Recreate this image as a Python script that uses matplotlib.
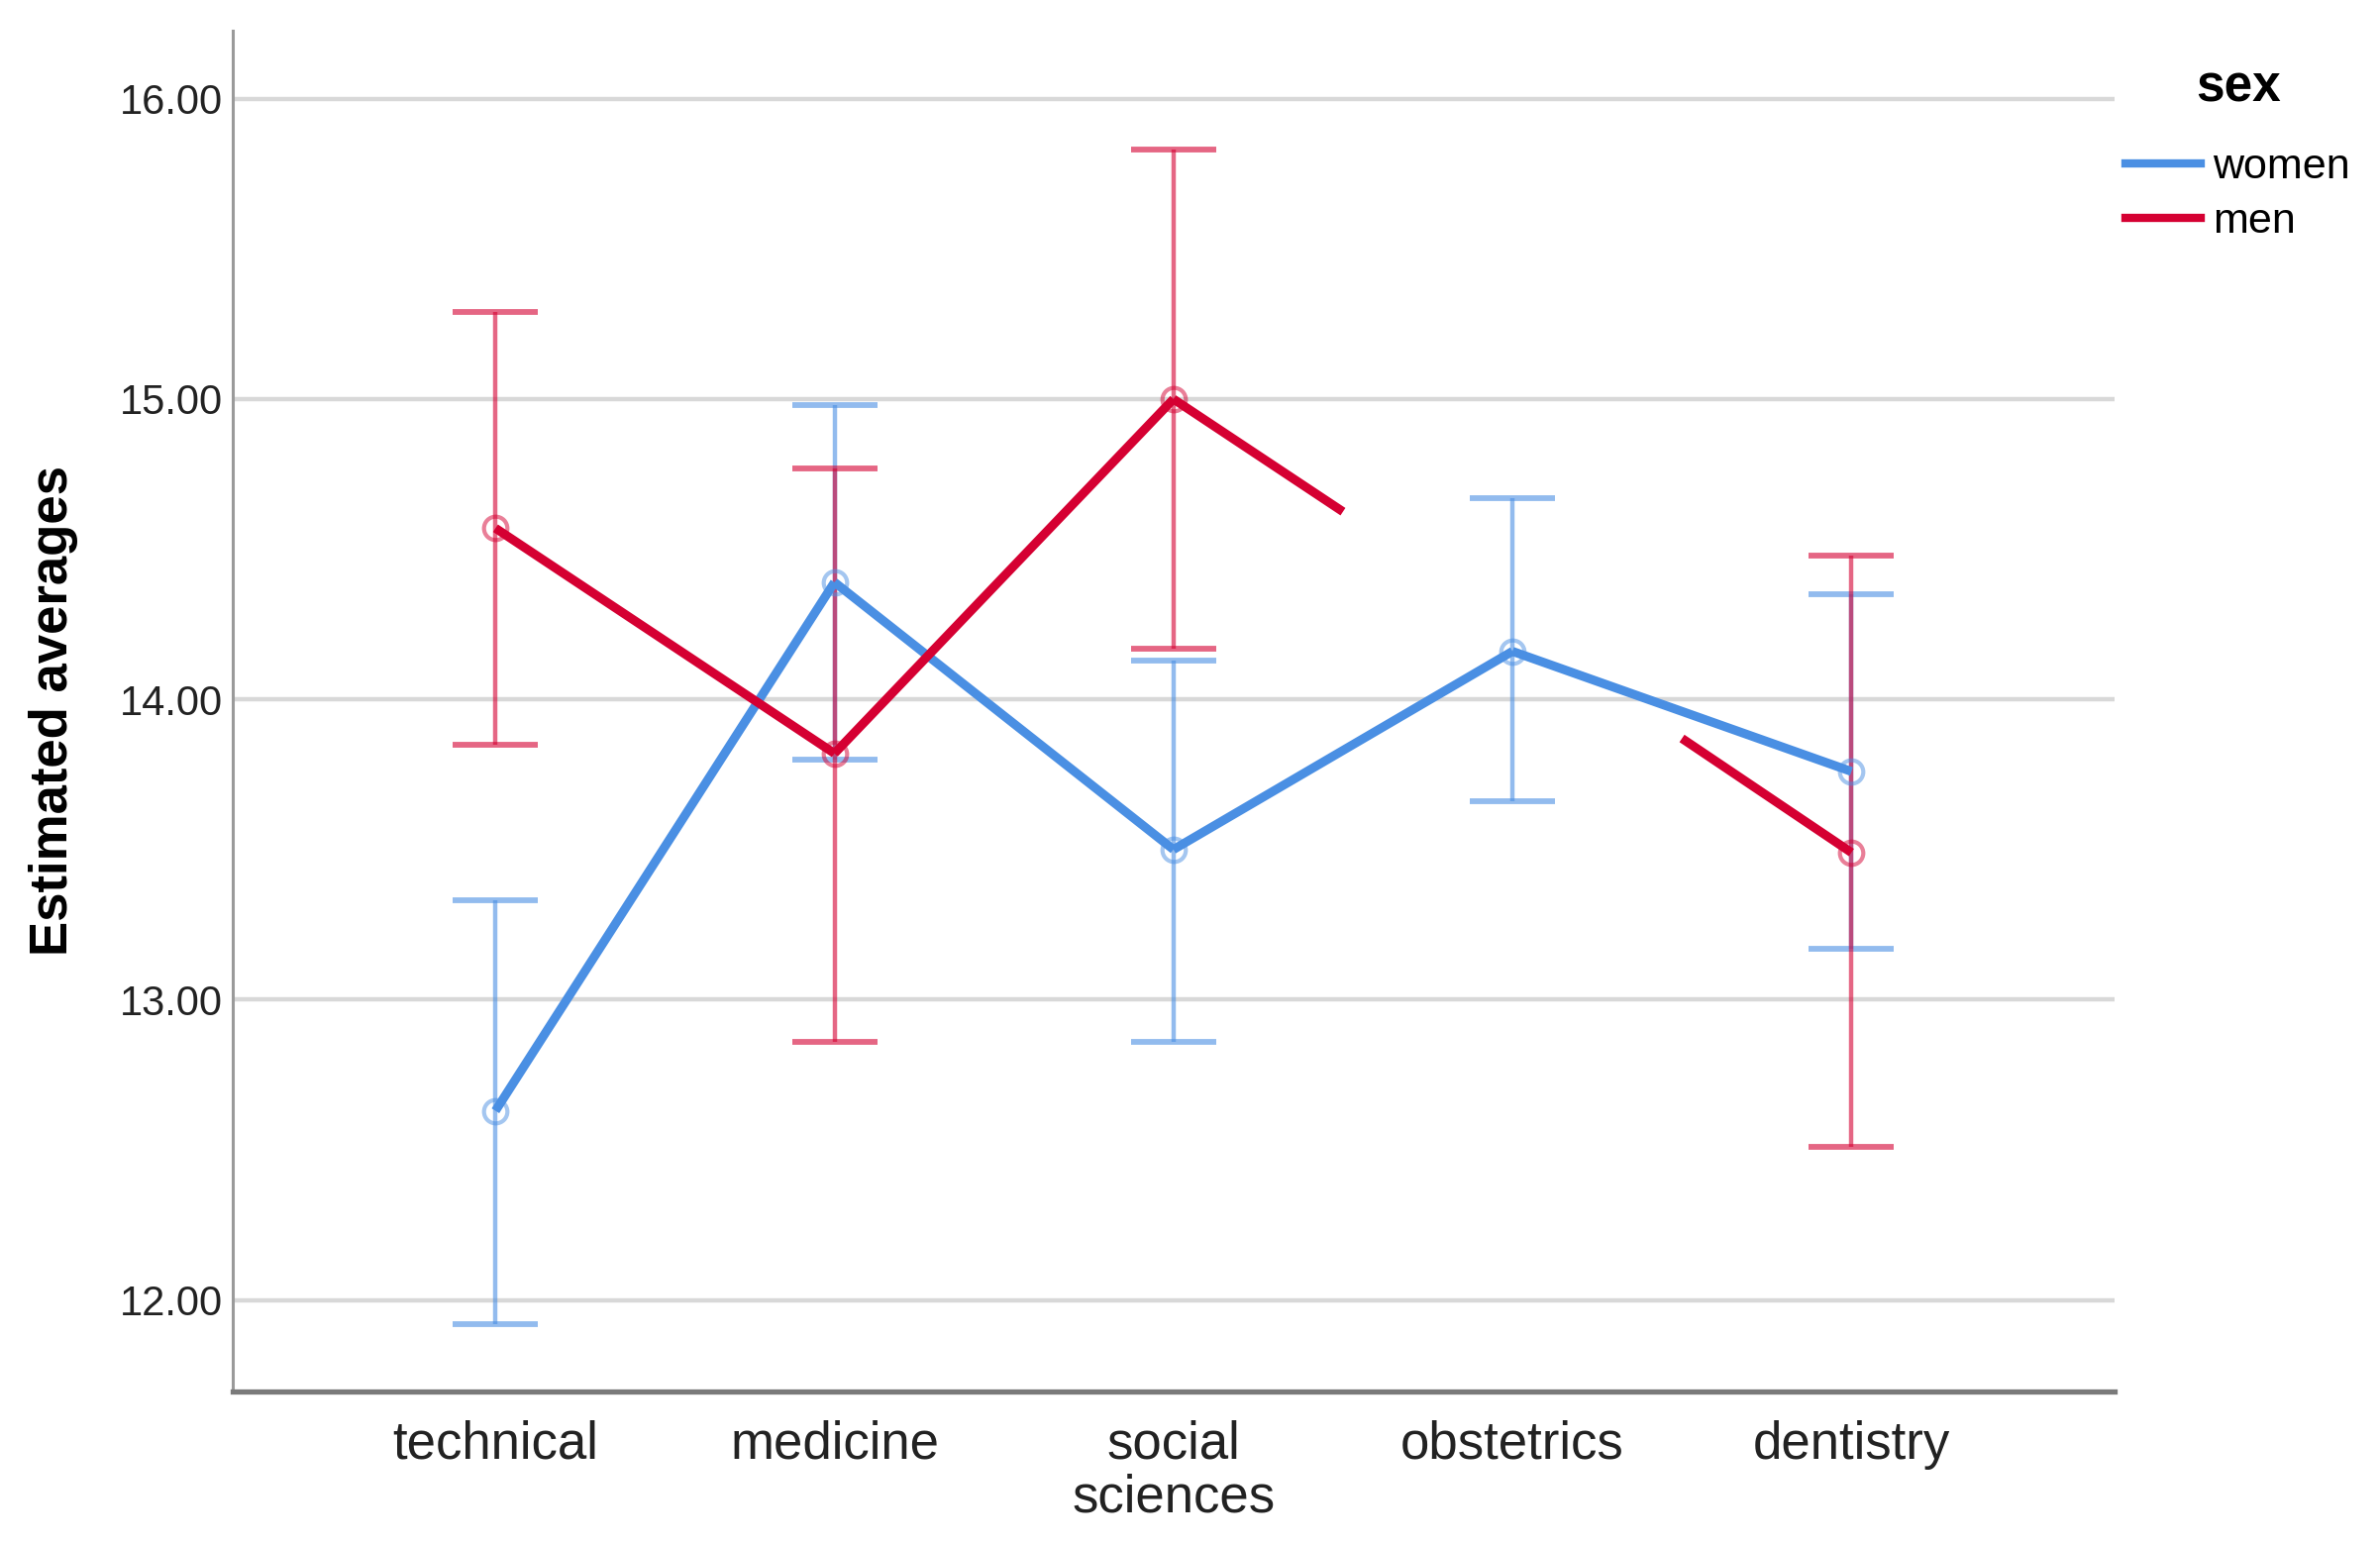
import numpy as np
import matplotlib.pyplot as plt
from matplotlib.lines import Line2D

# estimated marginal means with 95% CI
categories = ["technical", "medicine", "social\nsciences", "obstetrics", "dentistry"]
yticks = [12.0, 13.0, 14.0, 15.0, 16.0]

women_mean = [12.63, 14.39, 13.50, 14.16, 13.76]
women_lo   = [11.92, 13.80, 12.86, 13.66, 13.17]
women_hi   = [13.33, 14.98, 14.13, 14.67, 14.35]

# men / obstetrics is not estimable: no marker, no CI, line stops half-way
men_mean = [14.57, 13.82, 15.00, 14.25, 13.49]
men_lo   = [13.85, 12.86, 14.17, np.nan, 12.51]
men_hi   = [15.29, 14.77, 15.83, np.nan, 14.48]
men_ok   = [True, True, True, False, True]

BLUE = "#4A8FE3"
RED = "#D50032"

FONT = ["Liberation Sans", "DejaVu Sans"]


def draw_series(ax, x, mean, lo, hi, ok, color):
    x = np.asarray(x, dtype=float)
    mean = np.asarray(mean, dtype=float)
    ok = np.asarray(ok)

    # connecting line, half segments next to a missing cell
    for i in range(len(x) - 1):
        xa, xb = x[i], x[i + 1]
        ya, yb = mean[i], mean[i + 1]
        xm, ym = (xa + xb) / 2, (ya + yb) / 2
        if ok[i] and ok[i + 1]:
            ax.plot([xa, xb], [ya, yb], color=color, lw=6.5, solid_capstyle='butt', zorder=4)
        elif ok[i]:
            ax.plot([xa, xm], [ya, ym], color=color, lw=6.5, solid_capstyle='butt', zorder=4)
        elif ok[i + 1]:
            ax.plot([xm, xb], [ym, yb], color=color, lw=6.5, solid_capstyle='butt', zorder=4)

    # error bars (95% CI)
    lo = np.asarray(lo, dtype=float)
    hi = np.asarray(hi, dtype=float)
    ax.errorbar(x[ok], mean[ok], yerr=[mean[ok] - lo[ok], hi[ok] - mean[ok]],
                fmt='none', ecolor=color, elinewidth=3.2, capsize=31, capthick=4.2,
                alpha=0.6, zorder=3)

    # hollow markers
    ax.plot(x[ok], mean[ok], 'o', ms=17, mfc='none', mec=color, mew=3,
            alpha=0.5, zorder=5)


fig = plt.figure(figsize=(24.03, 15.6), dpi=100)
ax = fig.add_axes([0.0978, 0.0995, 0.7905, 0.8805])

x = np.arange(len(categories))
draw_series(ax, x, women_mean, women_lo, women_hi, [True] * 5, BLUE)
draw_series(ax, x, men_mean, men_lo, men_hi, men_ok, RED)

ax.set_xlim(-0.775, 4.775)
ax.set_ylim(11.696, 16.226)

ax.set_yticks(yticks)
ax.set_yticklabels([f"{v:.2f}" for v in yticks], family=FONT, fontsize=30, color='#222222')
ax.set_xticks(x)
ax.set_xticklabels(categories, family=FONT, fontsize=38, color='#222222', linespacing=1.1)
ax.tick_params(axis='both', length=0)
ax.tick_params(axis='y', pad=7)
ax.tick_params(axis='x', pad=21)

ax.yaxis.grid(True, color='#D8D8D8', lw=3.2)
ax.set_axisbelow(True)

for s in ['top', 'right']:
    ax.spines[s].set_visible(False)
ax.spines['left'].set_color('#9A9A9A')
ax.spines['left'].set_linewidth(2.2)
ax.spines['bottom'].set_color('#7A7A7A')
ax.spines['bottom'].set_linewidth(3.8)

ax.set_ylabel("Estimated averages", family=FONT, fontsize=38, fontweight='bold')
ax.yaxis.set_label_coords(-0.082, 0.5)

handles = [Line2D([], [], color=BLUE, lw=6), Line2D([], [], color=RED, lw=6)]
leg = fig.legend(handles, ["women", "men"], loc='upper left', bbox_to_anchor=(0.886, 0.970),
                 frameon=False, title="sex", handlelength=1.75, handletextpad=0.3,
                 labelspacing=0.35, borderaxespad=0,
                 prop={'family': FONT, 'size': 31})
leg.get_title().set_fontproperties({'family': FONT, 'size': 37, 'weight': 'bold'})
leg._legend_box.sep = 26

fig.savefig("out.png", dpi=100, facecolor='white')
